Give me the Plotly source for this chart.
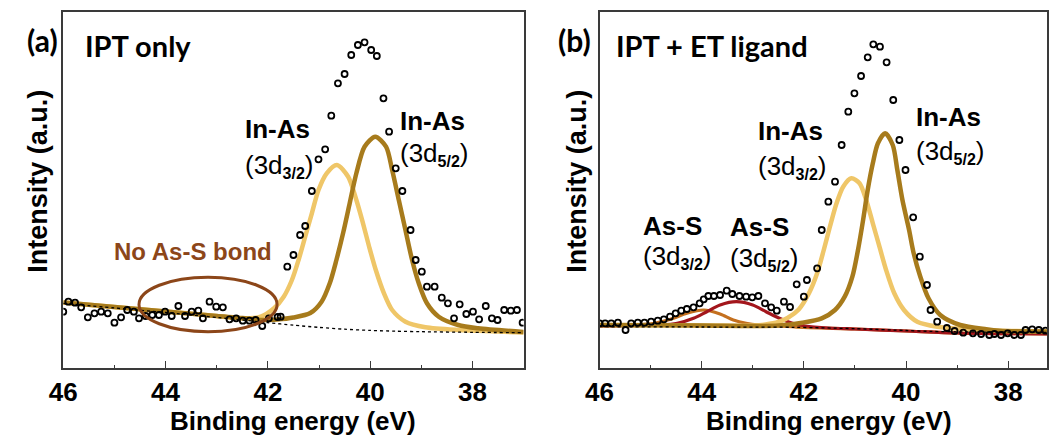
import plotly.graph_objects as go
from plotly.subplots import make_subplots

W, H = 1049, 438

# ---------------- Panel (a): IPT only ----------------
a_pts_x = [46.00, 45.90, 45.77, 45.65, 45.52, 45.39, 45.26, 45.13, 45.00, 44.87, 44.75, 44.62,
           44.52, 44.39, 44.26, 44.13, 44.01, 43.88, 43.75, 43.62, 43.49, 43.36, 43.27, 43.14,
           43.01, 42.88, 42.75, 42.62, 42.49, 42.36, 42.24, 42.11, 41.98, 41.81, 41.75,
           41.62, 41.50, 41.37, 41.27, 41.14, 41.01, 40.88, 40.76, 40.63, 40.50, 40.37, 40.24,
           40.11, 39.98, 39.87, 39.74, 39.63, 39.50, 39.37, 39.21, 39.11, 38.99, 38.89, 38.74,
           38.60, 38.48, 38.36, 38.25, 38.12, 37.99, 37.87, 37.74, 37.62, 37.51, 37.38, 37.25,
           37.13, 37.02]
a_pts_y = [56.3, 66.3, 65.3, 60.7, 50.7, 54.7, 56.3, 54.7, 45.3, 50.7, 58.0, 56.3,
           49.7, 52.0, 53.0, 53.0, 56.3, 52.0, 62.0, 52.0, 56.3, 57.3, 49.7, 66.3,
           61.3, 60.7, 48.7, 49.7, 47.3, 47.3, 48.0, 42.0, 49.7, 51.0, 51.3,
           101.3, 113.0, 133.0, 142.0, 177.0, 208.7, 218.7, 252.3, 284.7, 294.0, 313.0, 323.0,
           325.7, 318.0, 312.0, 269.7, 236.3, 199.7, 177.0, 138.0, 108.0, 96.3, 81.3, 81.3,
           70.3, 64.7, 49.7, 63.7, 54.0, 56.3, 48.7, 62.0, 49.7, 48.0, 58.0, 57.3,
           58.0, 45.3]

a_base_x = [46.0, 45.0, 44.0, 43.0, 42.5, 42.0, 41.5, 41.0, 40.5, 40.0, 39.5, 39.0, 38.0, 37.0]
a_base_y = [64.7, 60.0, 55.5, 50.5, 48.0, 45.3, 42.8, 40.6, 38.8, 37.6, 36.8, 36.3, 35.7, 35.3]

a_d32_x = [46.0, 45.0, 44.0, 43.0, 42.5, 42.14, 41.88, 41.69, 41.53, 41.40, 41.27, 41.14, 41.01,
           40.85, 40.65, 40.43, 40.27, 40.14, 40.02, 39.89, 39.73, 39.57, 39.31, 38.92, 38.28,
           37.89, 37.0]
a_d32_y = [65.5, 61.0, 56.5, 52.0, 49.5, 51.3, 59.7, 71.3, 88.0, 108.0, 131.3, 154.7, 178.0,
           194.7, 203.0, 191.3, 168.0, 144.7, 121.3, 98.0, 74.7, 58.0, 46.3, 40.7, 38.0,
           37.3, 35.5]

a_d52_x = [46.0, 45.0, 44.0, 43.0, 42.5, 42.14, 41.82, 41.50, 41.17, 40.95, 40.79, 40.66, 40.53,
           40.40, 40.27, 40.11, 39.90, 39.69, 39.57, 39.44, 39.31, 39.18, 39.05, 38.89, 38.66,
           38.28, 37.89, 37.0]
a_d52_y = [65.5, 61.0, 56.5, 52.0, 50.0, 48.0, 48.5, 50.5, 55.0, 66.3, 84.7, 108.0, 134.7,
           164.7, 194.7, 221.3, 231.3, 221.3, 198.0, 168.0, 138.0, 108.0, 84.7, 64.7, 51.3,
           43.0, 39.7, 36.0]

# ---------------- Panel (b): IPT + ET ligand ----------------
b_pts_x = [46.00, 45.89, 45.77, 45.64, 45.49, 45.38, 45.25, 45.12, 44.99, 44.86, 44.74, 44.62,
           44.51, 44.40, 44.29, 44.16, 44.04, 43.96, 43.87, 43.76, 43.64, 43.51, 43.40, 43.26,
           43.13, 43.01, 42.89, 42.76, 42.64, 42.53, 42.39, 42.27, 42.14, 42.00, 41.94, 41.74,
           41.65, 41.52, 41.39, 41.26, 41.13, 41.01, 40.88, 40.75, 40.64, 40.51, 40.38, 40.25,
           40.13, 40.01, 39.86, 39.73, 39.59, 39.52, 39.39, 39.20, 39.05, 38.88, 38.69, 38.53,
           38.37, 38.27, 38.14, 38.01, 37.88, 37.75, 37.66, 37.53, 37.40, 37.27]
b_pts_y = [44.7, 44.7, 44.7, 45.3, 38.0, 44.7, 45.3, 45.3, 46.3, 47.3, 48.7, 51.3,
           54.7, 57.3, 59.0, 60.7, 64.7, 68.7, 72.0, 72.0, 73.0, 77.3, 74.0, 72.0,
           71.3, 70.7, 72.0, 64.7, 60.7, 57.3, 66.3, 61.0, 83.7, 71.3, 88.0, 99.7,
           138.0, 166.3, 186.3, 223.0, 256.3, 274.7, 292.0, 310.7, 323.7, 321.3, 305.7, 268.0,
           228.0, 198.0, 150.7, 111.3, 83.0, 58.0, 46.3, 40.0, 37.0, 35.3, 34.7, 34.0,
           33.0, 34.0, 33.0, 34.7, 33.0, 33.0, 38.0, 38.7, 38.0, 37.3]

b_base_x = [46.0, 44.0, 42.2, 41.0, 40.0, 39.5, 39.0, 38.0, 37.2]
b_base_y = [41.3, 41.0, 40.7, 39.3, 37.5, 36.6, 36.2, 35.8, 35.6]

b_d32_x = [46.0, 45.0, 44.0, 43.0, 42.75, 42.5, 42.32, 42.10, 41.90, 41.74, 41.61, 41.49, 41.36,
           41.23, 41.07, 40.91, 40.78, 40.65, 40.52, 40.39, 40.23, 40.04, 39.78, 39.39, 38.81,
           38.17, 37.2]
b_d32_y = [43.0, 42.8, 42.5, 42.5, 43.5, 46.0, 50.0, 58.5, 74.7, 94.7, 118.0, 141.3, 164.7,
           181.3, 189.7, 184.7, 168.0, 144.7, 121.3, 98.0, 74.7, 58.0, 46.3, 41.3, 38.7,
           37.3, 36.5]

b_d52_x = [46.0, 44.0, 43.0, 42.5, 42.03, 41.65, 41.39, 41.20, 41.05, 40.94, 40.84, 40.75, 40.65,
           40.55, 40.41, 40.26, 40.17, 40.07, 39.94, 39.85, 39.72, 39.56, 39.33, 38.94, 38.43,
           38.17, 37.2]
b_d52_y = [43.0, 42.5, 42.0, 42.5, 45.3, 49.7, 58.0, 71.3, 91.3, 118.0, 148.0, 178.0, 204.7,
           224.7, 234.7, 223.0, 198.0, 168.0, 138.0, 114.7, 91.3, 69.7, 53.0, 43.0, 38.7,
           37.3, 36.5]

b_ass32_x = [46.0, 45.31, 44.93, 44.61, 44.29, 43.96, 43.64, 43.38, 43.13, 42.87, 42.5, 42.0,
             41.0, 40.0, 39.0, 38.0, 37.2]
b_ass32_y = [42.0, 43.0, 44.7, 48.7, 54.7, 58.0, 54.0, 48.0, 44.7, 43.0, 42.0, 40.5,
             39.0, 37.0, 35.0, 34.3, 34.0]

b_ass52_x = [46.0, 44.80, 44.48, 44.16, 43.90, 43.64, 43.32, 43.00, 42.74, 42.48, 42.22, 41.97,
             41.5, 41.0, 40.0, 39.0, 38.0, 37.2]
b_ass52_y = [42.0, 43.0, 44.7, 49.7, 56.3, 63.0, 66.3, 63.0, 56.3, 49.7, 44.7, 42.0,
             40.0, 39.0, 37.0, 35.0, 34.3, 34.0]

# ellipse around "No As-S bond" region (eV, intensity)
ell_x = [44.52, 41.82]
ell_y = [36.3, 90.7]

tick_vals = [46, 44, 42, 40, 38]
tick_text = ["46", "44", "42", "40", "38"]

# ---------------- styles ----------------
C_LIGHT = "#EFC668"
C_DARK = "#A77B1C"
C_RED = "#A3161C"
C_ORANGE = "#C4701F"
C_BROWN = "#8C4619"
ARIAL = "Liberation Sans"

fig = make_subplots(rows=1, cols=2)


def line(x, y, color, width, row, col, dash=None, shape="spline"):
    fig.add_trace(go.Scatter(x=x, y=y, mode="lines",
                             line=dict(color=color, width=width, dash=dash, shape=shape,
                                       smoothing=0.8 if shape == "spline" else None),
                             hoverinfo="skip", showlegend=False), row=row, col=col)


def pts(x, y, row, col):
    fig.add_trace(go.Scatter(x=x, y=y, mode="markers",
                             marker=dict(symbol="circle-open", size=6, color="black",
                                         line=dict(width=1.8, color="black")),
                             hoverinfo="skip", showlegend=False), row=row, col=col)


# panel a
line(a_d32_x, a_d32_y, C_LIGHT, 4.5, 1, 1)
line(a_d52_x, a_d52_y, C_DARK, 4.5, 1, 1)
line(a_base_x, a_base_y, "black", 1.3, 1, 1, dash="3px,3px")
pts(a_pts_x, a_pts_y, 1, 1)

# panel b
line(b_ass32_x, b_ass32_y, C_ORANGE, 3.2, 1, 2)
line(b_ass52_x, b_ass52_y, C_RED, 3.2, 1, 2)
line(b_d32_x, b_d32_y, C_LIGHT, 4.5, 1, 2)
line(b_d52_x, b_d52_y, C_DARK, 4.5, 1, 2)
line(b_base_x, b_base_y, "black", 1.3, 1, 2, dash="3px,3px")
pts(b_pts_x, b_pts_y, 1, 2)

fig.add_shape(type="circle", xref="x", yref="y",
              x0=ell_x[0], x1=ell_x[1], y0=ell_y[0], y1=ell_y[1],
              line=dict(color=C_BROWN, width=3))

axis_common = dict(showline=True, mirror=True, linecolor="#3a3a3a", linewidth=1.5,
                   showgrid=False, zeroline=False)
xfont = dict(family=ARIAL, size=26, color="black", weight="bold")

fig.update_xaxes(**axis_common, ticks="inside", ticklen=7, tickwidth=1.3, tickcolor="#3a3a3a",
                 tickvals=tick_vals, ticktext=tick_text, tickfont=xfont,
                 minor=dict(ticks="inside", ticklen=3, tickwidth=1.3, tickcolor="#3a3a3a",
                            tickvals=[45, 43, 41, 39, 37]))
fig.update_yaxes(**axis_common, showticklabels=False, ticks="", range=[0, 356])

fig.update_layout(
    width=W, height=H, autosize=False,
    margin=dict(l=0, r=0, t=0, b=0),
    paper_bgcolor="white", plot_bgcolor="white",
    xaxis=dict(domain=[50 / W, 517 / W], range=[46, 37]),
    xaxis2=dict(domain=[594 / W, 1048 / W], range=[46, 37.24]),
    yaxis=dict(domain=[1 - 368 / H, 1 - 12 / H]),
    yaxis2=dict(domain=[1 - 368 / H, 1 - 12 / H]),
)


def ann(text, xpx, ypx, size=26, bold=True, family=ARIAL, color="black",
        xanchor="left", angle=0):
    fig.add_annotation(text=text, xref="paper", yref="paper",
                       x=xpx / W, y=1 - ypx / H, xanchor=xanchor, yanchor="middle",
                       showarrow=False, textangle=angle,
                       font=dict(family=family, size=size, color=color,
                                 weight="bold" if bold else "normal"))


SUB32 = "(3d<sub><span style='font-size:16px'><b>3/2</b></span></sub>)"
SUB52 = "(3d<sub><span style='font-size:16px'><b>5/2</b></span></sub>)"

# panel labels
ann("(a)", 11, 40, size=30, family="Lato")
ann("IPT only", 70, 45.5, size=29, family="Lato")
ann("(b)", 550, 40, size=30, family="Lato")
ann("IPT + ET ligand", 609, 45.5, size=29, family="Lato")

# peak labels panel a
ann("In-As", 232, 129)
ann(SUB32, 232, 166, bold=False)
ann("In-As", 390, 120.7)
ann(SUB52, 390, 154, bold=False)
ann("No As-S bond", 181.7, 251, size=24, color=C_BROWN, xanchor="center")

# peak labels panel b
ann("In-As", 753, 130.7)
ann(SUB32, 753, 167.4, bold=False)
ann("In-As", 913, 116.7)
ann(SUB52, 913, 152.4, bold=False)
ann("As-S", 636, 225.7)
ann(SUB32, 636, 257.4, bold=False)
ann("As-S", 724.5, 227.4)
ann(SUB52, 724.5, 259, bold=False)

# axis titles
ann("Binding energy (eV)", 283.5, 421, xanchor="center")
ann("Binding energy (eV)", 827.3, 421, xanchor="center")
ann("Intensity (a.u.)", 24, 181, size=27, xanchor="center", angle=-90)
ann("Intensity (a.u.)", 571, 181, size=27, xanchor="center", angle=-90)

fig.write_html("out.html")
